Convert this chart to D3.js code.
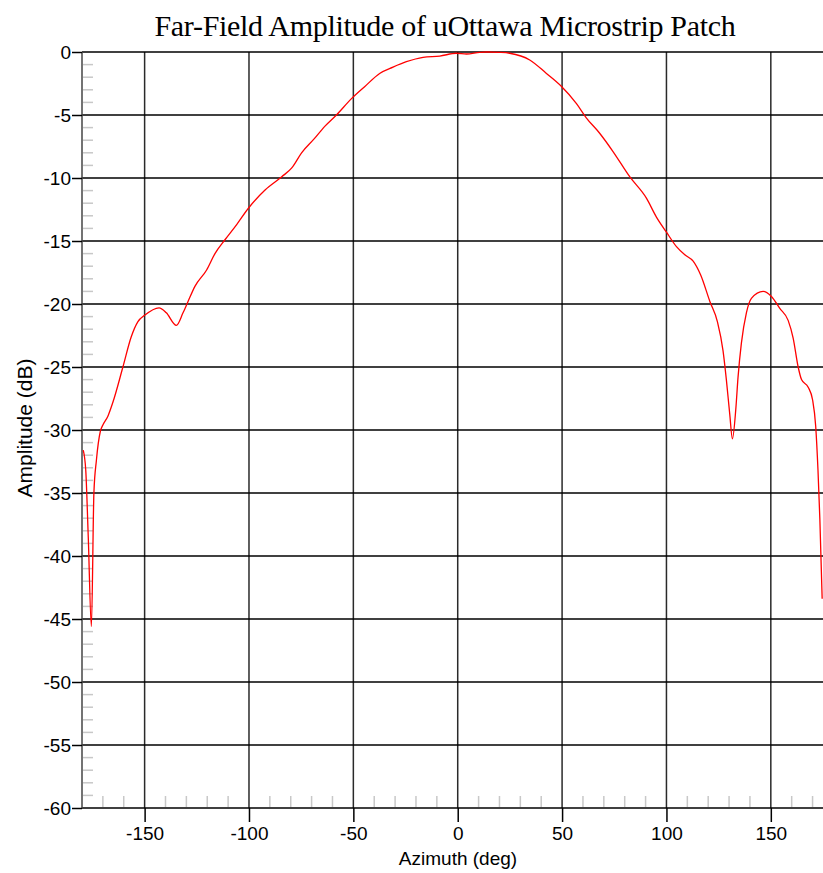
<!DOCTYPE html>
<html>
<head>
<meta charset="utf-8">
<script src="https://cdn.jsdelivr.net/npm/d3@7/dist/d3.min.js"></script>
<style>
  html, body { margin: 0; padding: 0; background: #fff; }
  svg { display: block; }
</style>
</head>
<body>
<svg id="chart" width="823" height="873"></svg>
<script>
// Measured far-field pattern: azimuth (deg) and amplitude (dB)
const azimuth = [
  -179.4, -178.2, -177, -175.5, -174.3, -173.1, -171.2, -170, -167.6, -165.2,
  -160.4, -156.4, -153.2, -150, -143.1, -139.6, -134.8, -131.6, -129.2, -125.9,
  -120.3, -116.3, -111.5, -105.9, -100.3, -92.3, -84.3, -79.5, -74.8, -68.8,
  -63.7, -58.1, -50.9, -44.6, -37.4, -31, -24.6, -16.6, -8.6, -0.6,
  4.2, 10.5, 13.7, 20.1, 24.9, 34.5, 42.5, 49.5, 56.9, 61.5,
  68, 74.4, 82.4, 90.4, 95.2, 100, 104.8, 108.8, 112.8, 116.4,
  120.8, 124.4, 127.1, 128.7, 130.3, 131.6, 133.2, 134.3, 135.9, 138.3,
  140.7, 146.3, 150.3, 154.3, 158.3, 160.7, 163.1, 164.7, 167.9, 170,
  171.5, 172.6, 173.5, 174.6
];
const amplitude = [
  -31.6, -33.2, -38.5, -45.6, -35.0, -32.4, -30.1, -29.6, -28.9, -27.8,
  -25.0, -22.6, -21.4, -20.9, -20.3, -20.7, -21.7, -20.7, -19.8, -18.6,
  -17.3, -16.0, -14.9, -13.7, -12.4, -10.95, -9.9, -9.2, -8.0, -6.9,
  -5.9, -5.0, -3.7, -2.75, -1.7, -1.2, -0.77, -0.42, -0.32, -0.1,
  -0.16, -0.03, 0, -0.03, -0.1, -0.63, -1.7, -2.7, -4.1, -5.2,
  -6.45, -7.9, -9.9, -11.6, -13.1, -14.3, -15.45, -16.1, -16.6, -17.7,
  -19.8, -21.4, -23.7, -26.0, -28.7, -30.7, -28.4, -25.8, -23.1, -20.7,
  -19.55, -19.0, -19.4, -20.35, -21.3, -22.7, -25.0, -26.0, -26.6, -27.6,
  -29.7, -33.2, -37.1, -43.4
];

const xMajorTicks = [-150, -100, -50, 0, 50, 100, 150];
const xMinorTicks = [-170, -160, -140, -130, -120, -110, -90, -80, -70, -60,
  -40, -30, -20, -10, 10, 20, 30, 40, 60, 70, 80, 90, 110, 120, 130, 140, 160, 170];
const yMajorTicks = [0, -5, -10, -15, -20, -25, -30, -35, -40, -45, -50, -55, -60];
const yMinorTicks = d3.range(-1, -60, -1).filter(v => v % 5 !== 0);

const titleText = "Far-Field Amplitude of uOttawa Microstrip Patch";
const xLabel = "Azimuth (deg)";
const yLabel = "Amplitude (dB)";

const plotLeft = 82, plotRight = 823, plotTop = 52, plotBottom = 808;
const sans = "Liberation Sans, Arial, sans-serif";

const svg = d3.select("#chart");
const x = d3.scaleLinear().domain([-180, 175]).range([plotLeft, plotRight]);
const y = d3.scaleLinear().domain([-60, 0]).range([plotBottom, plotTop]);

// minor ticks, light gray, inside the plot
svg.append("g").selectAll("line").data(yMinorTicks).join("line")
  .attr("x1", plotLeft + 1).attr("x2", plotLeft + 11)
  .attr("y1", d => y(d)).attr("y2", d => y(d))
  .attr("stroke", "#c8c8c8").attr("stroke-width", 1.5);
svg.append("g").selectAll("line").data(xMinorTicks).join("line")
  .attr("x1", d => x(d)).attr("x2", d => x(d))
  .attr("y1", plotBottom - 1).attr("y2", plotBottom - 12)
  .attr("stroke", "#c8c8c8").attr("stroke-width", 1.5);

// vertical grid
svg.append("g").selectAll("line").data(xMajorTicks).join("line")
  .attr("x1", d => x(d)).attr("x2", d => x(d))
  .attr("y1", plotTop).attr("y2", plotBottom)
  .attr("stroke", "#2a2a2a").attr("stroke-width", 1.5);

// horizontal grid
svg.append("g").selectAll("line").data(yMajorTicks).join("line")
  .attr("x1", plotLeft).attr("x2", plotRight)
  .attr("y1", d => y(d)).attr("y2", d => y(d))
  .attr("stroke", "#000").attr("stroke-width", 1.5);

// left axis line
svg.append("line")
  .attr("x1", plotLeft).attr("x2", plotLeft).attr("y1", plotTop).attr("y2", plotBottom)
  .attr("stroke", "#444").attr("stroke-width", 1.5);

// labels use a plain hyphen for negative values
const fmt = d => String(d);

// y axis
const yAxis = d3.axisLeft(y).tickValues(yMajorTicks).tickSize(10).tickPadding(1)
  .tickFormat(fmt);
const gy = svg.append("g").attr("transform", `translate(${plotLeft},0)`).call(yAxis);
gy.select(".domain").remove();
gy.selectAll(".tick line").attr("stroke", "#000").attr("stroke-width", 1.5);
gy.selectAll(".tick text").attr("font-family", sans)
  .attr("font-size", 19).attr("fill", "#000").attr("dy", "0.34em");

// x axis
const xAxis = d3.axisBottom(x).tickValues(xMajorTicks).tickSize(14).tickPadding(5)
  .tickFormat(fmt);
const gx = svg.append("g").attr("transform", `translate(0,${plotBottom})`).call(xAxis);
gx.select(".domain").remove();
gx.selectAll(".tick line").attr("stroke", "#000").attr("stroke-width", 1.5);
gx.selectAll(".tick text").attr("font-family", sans)
  .attr("font-size", 19).attr("fill", "#000");

// pattern curve
const pts = azimuth.map((a, i) => [a, amplitude[i]]);
svg.append("path")
  .datum(pts)
  .attr("fill", "none")
  .attr("stroke", "#ff0000")
  .attr("stroke-width", 1.3)
  .attr("d", d3.line().x(d => x(d[0])).y(d => y(d[1])).curve(d3.curveMonotoneX));

// titles
svg.append("text")
  .attr("x", 445).attr("y", 36)
  .attr("text-anchor", "middle")
  .attr("font-family", "Liberation Serif, Times New Roman, serif")
  .attr("font-size", 30)
  .attr("letter-spacing", "-0.3px")
  .text(titleText);

svg.append("text")
  .attr("x", 458).attr("y", 865)
  .attr("text-anchor", "middle")
  .attr("font-family", sans)
  .attr("font-size", 19)
  .text(xLabel);

svg.append("text")
  .attr("transform", "translate(32,428) rotate(-90)")
  .attr("text-anchor", "middle")
  .attr("font-family", sans)
  .attr("font-size", 21)
  .text(yLabel);
</script>
</body>
</html>
